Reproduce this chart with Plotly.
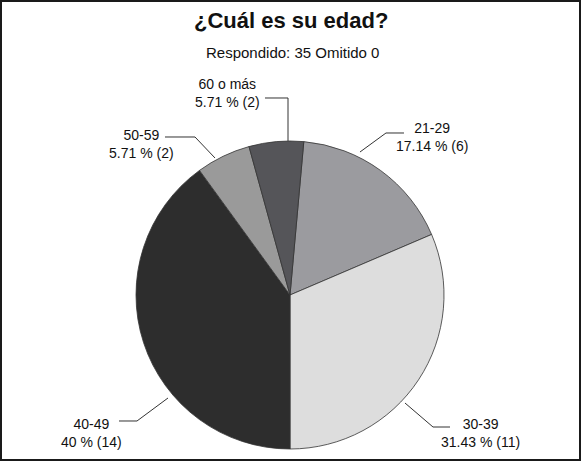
import plotly.graph_objects as go

# ---- data ----
categories = ["21-29", "30-39", "40-49", "50-59", "60 o más"]
counts = [6, 11, 14, 2, 2]
percent_labels = ["17.14 %", "31.43 %", "40 %", "5.71 %", "5.71 %"]
slice_colors = ["#9b9b9f", "#dddddd", "#2d2d2d", "#9a9a9a", "#555559"]
title_text = "¿Cuál es su edad?"
subtitle_text = "Respondido: 35 Omitido 0"

W, H = 581, 461
FONT = "Liberation Sans, Arial, Helvetica, sans-serif"

def px(x):
    return x / W

def py(y):
    return 1 - y / H

# pie geometry (pixels)
cx, cy, r = 290, 295, 154

fig = go.Figure(go.Pie(
    labels=categories,
    values=counts,
    sort=False,
    direction="clockwise",
    rotation=5.14,
    marker=dict(colors=slice_colors, line=dict(color="#333333", width=0.8)),
    textinfo="none",
    hoverinfo="label+percent+value",
    domain=dict(x=[px(cx - r), px(cx + r)], y=[py(cy + r), py(cy - r)]),
    showlegend=False,
))

# label placement (pixel centres) and leader lines (pixel polylines)
label_pos = {
    "21-29": (432, 137),
    "30-39": (480, 432.5),
    "40-49": (91, 432.5),
    "50-59": (141, 144),
    "60 o más": (227, 92.5),
}
leaders = {
    "21-29": [(360, 152), (386, 133), (404, 133)],
    "30-39": [(405, 403), (433, 427), (450, 427)],
    "40-49": [(168, 398), (137, 421), (119, 421)],
    "50-59": [(215, 158), (195, 137), (165, 137)],
    "60 o más": [(288, 141), (288, 98), (265, 98)],
}

annotations = [
    dict(text="<b>" + title_text + "</b>", x=px(291), y=py(20), xref="paper", yref="paper",
         showarrow=False, xanchor="center", yanchor="middle",
         font=dict(family=FONT, size=22, color="#111111")),
    dict(text=subtitle_text, x=px(292), y=py(52), xref="paper", yref="paper",
         showarrow=False, xanchor="center", yanchor="middle",
         font=dict(family=FONT, size=15, color="#111111")),
]
shapes = []
for cat, cnt, pct in zip(categories, counts, percent_labels):
    lx, ly = label_pos[cat]
    annotations.append(dict(
        text=f"{cat}<br>{pct} ({cnt})", x=px(lx), y=py(ly),
        xref="paper", yref="paper", showarrow=False,
        xanchor="center", yanchor="middle", align="center",
        font=dict(family=FONT, size=14, color="#111111")))
    pts = leaders[cat]
    path = "M " + " L ".join(f"{px(x):.5f},{py(y):.5f}" for x, y in pts)
    shapes.append(dict(type="path", path=path, xref="paper", yref="paper",
                       line=dict(color="#333333", width=1)))

# frame
shapes.append(dict(type="rect", x0=0, y0=0, x1=1, y1=1, xref="paper", yref="paper",
                   line=dict(color="#1a1a1a", width=4), layer="above"))

fig.update_layout(
    width=W, height=H,
    margin=dict(l=0, r=0, t=0, b=0),
    paper_bgcolor="white",
    plot_bgcolor="white",
    annotations=annotations,
    shapes=shapes,
    font=dict(family=FONT),
)

fig.write_html(
    "out.html",
    config={"displayModeBar": False},
    post_script="document.body.style.margin='0';document.body.style.overflow='hidden';",
)
